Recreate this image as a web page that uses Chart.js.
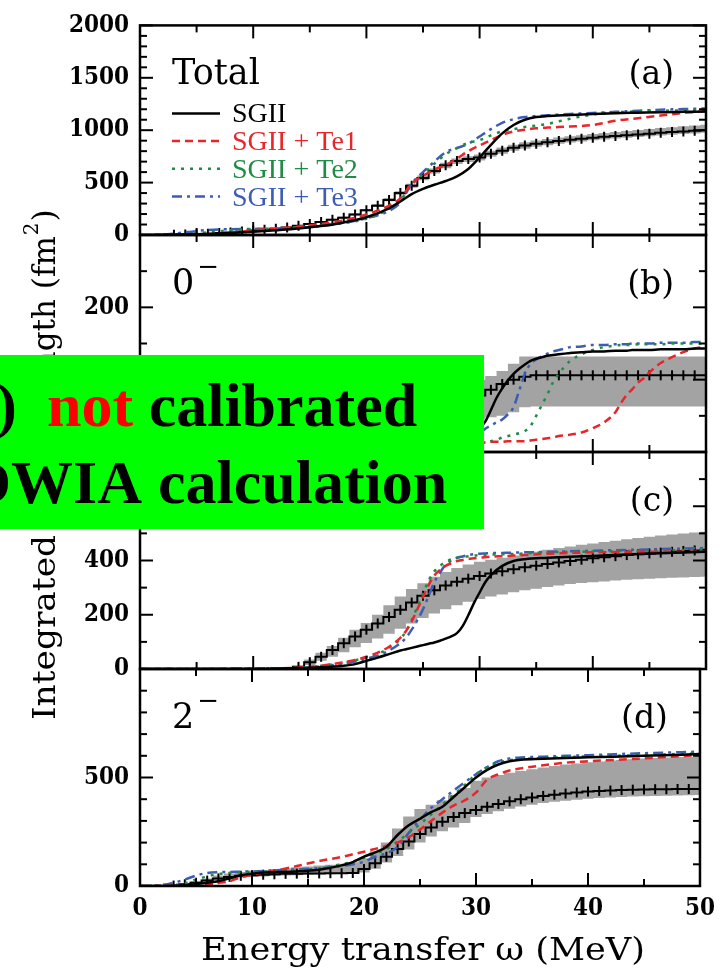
<!DOCTYPE html>
<html>
<head>
<meta charset="utf-8">
<title>Integrated strength</title>
<script src="https://cdn.jsdelivr.net/npm/chart.js@4.4.1/dist/chart.umd.min.js"></script>
<style>
  body { margin: 0; background: #fff; }
  #wrap { position: relative; width: 723px; height: 971px; overflow: hidden; }
  #wrap canvas { position: absolute; left: 0; top: 0; }
  #note { position: absolute; left: 0; top: 355px; width: 484px; height: 174px; background: #00ff00; overflow: hidden;
          font: bold 62px "Liberation Serif", "Times New Roman", serif; line-height: 62px; white-space: nowrap; color: #000; }
  #note > span { position: absolute; }
  #note .red { color: #ff0000; }
</style>
</head>
<body>
<div id="wrap">
  <canvas id="pa" width="723" height="971"></canvas>
  <canvas id="pb" width="723" height="971"></canvas>
  <canvas id="pc" width="723" height="971"></canvas>
  <canvas id="pd" width="723" height="971"></canvas>
  <div id="note">
    <span style="right:467px;top:19px">(b)</span>
    <span style="left:47px;top:19px"><span class="red">not</span> calibrated</span>
    <span style="right:342px;top:96px">DWIA</span>
    <span style="left:158px;top:96px">calculation</span>
  </div>
</div>
<script>
const SLAB = '"DejaVu Serif", "Liberation Serif", serif';
const SLAB_NARROW = '"DejaVu Serif Condensed", "DejaVu Serif", serif';
const BLACK = "#000000";
const RED = "#e8262a";
const GREEN = "#1f8c45";
const BLUE = "#3d5db5";
const BAND = "#a3a3a3";

const SERIES = ["SGII", "SGII + Te1", "SGII + Te2", "SGII + Te3"];

// 1 MeV bins of the measured strength
const E_BINS = [0,1,2,3,4,5,6,7,8,9,10,11,12,13,14,15,16,17,18,19,20,21,22,23,24,25,26,27,28,29,30,
  31,32,33,34,35,36,37,38,39,40,41,42,43,44,45,46,47,48,49,50];

// --- (a) Total ---
const A_GRID = [0,2,4,6,8,10,12,14,16,18,20,22,23,24,25,26,27,28,29,30,31,32,33,34,35,36,38,40,42,44,46,48,50];
const A_SGII = [0,2,5,10,18,30,45,62,85,120,170,255,320,390,440,480,515,560,630,740,860,970,1050,1100,1125,1135,1145,1155,1162,1167,1172,1175,1178];
const A_TE1 = [0,1,3,8,20,45,62,80,105,140,195,280,350,490,565,625,668,730,800,855,905,955,988,1005,1018,1025,1035,1050,1090,1115,1140,1165,1180];
const A_TE2 = [0,2,8,25,45,55,62,72,90,115,155,250,330,480,580,680,770,830,880,905,950,990,1010,1030,1045,1060,1110,1150,1170,1180,1185,1190,1195];
const A_TE3 = [0,5,25,48,55,58,62,70,85,115,160,230,310,490,600,700,790,830,870,940,1010,1070,1105,1125,1135,1142,1155,1165,1175,1185,1195,1202,1208];
const A_EXP = [0,0,0,2,5,8,12,18,25,33,42,50,60,72,88,105,125,145,165,195,235,280,335,400,470,545,610,665,705,725,
  740,775,805,832,853,870,885,897,908,918,928,937,945,953,960,967,975,982,988,994,1000];
const A_LO = [0,0,0,1,4,7,11,17,23,31,40,48,57,69,84,100,120,139,158,187,226,269,322,384,451,523,586,638,677,696,
  712,746,776,803,824,841,857,870,882,893,903,912,920,928,935,942,950,957,963,969,975];
const A_HI = [0,0,0,3,7,10,14,21,28,37,46,55,66,79,95,113,134,155,176,207,248,295,352,418,490,568,634,690,730,752,
  768,803,834,862,884,901,917,930,942,953,964,974,984,993,1002,1011,1020,1029,1037,1045,1052];

// --- (b) 0- ---
const B_GRID = [0,10,15,20,24,26,28,29,30,30.5,31,31.5,32,32.5,33,33.5,34,34.5,35,35.5,36,36.5,37,37.5,38,39,40,41,42,42.5,43,43.5,44,44.5,45,46,47,48,49,50];
const B_SGII = [0,0,0,2,5,10,18,25,33,42,58,75,88,99,108,115,121,126,129,131,133,134,135,136,137,138,139,139,140,140,140,141,141,141,141,142,142,142,143,143];
const B_TE1 = [0,0,0,1,3,5,9,11,13,13,14,14,14,15,15,15,15,16,17,18,19,20,22,23,24,27,33,41,55,68,79,87,96,102,110,123,131,138,143,146];
const B_TE2 = [0,0,0,1,2,3,5,8,11,13,15,17,20,22,24,26,29,36,50,65,80,97,108,118,126,135,141,145,147,148,148,148,149,149,149,149,150,150,150,150];
const B_TE3 = [0,0,0,1,2,4,8,14,25,32,37,41,45,52,62,85,108,122,128,132,136,139,141,143,145,146,148,148,149,149,149,150,150,150,150,151,151,151,152,152];
const B_EXP = [0,0,0,0,0,0,0,0,0,0,0,1,2,3,5,7,9,12,15,18,22,26,30,35,40,46,52,58,65,72,
  78,86,94,100,104,106,106,106,106,106,106,106,106,106,106,106,106,106,106,106,106];
const B_LO = [0,0,0,0,0,0,0,0,0,0,0,0,1,2,3,4,5,7,9,11,13,15,18,21,24,27,30,33,36,38,
  45,48,50,55,62,63,63,63,63,63,63,63,63,63,63,63,63,63,63,63,63];
const B_HI = [0,0,0,0,0,0,0,0,0,0,0,2,3,5,7,10,13,17,21,25,30,35,41,48,55,62,70,78,86,94,
  100,105,112,122,132,132,132,132,132,132,132,132,132,132,132,132,132,132,132,132,132];

// --- (c) 1- ---
const C_GRID = [0,10,14,16,18,19,20,21,22,23,23.5,24,24.5,25,25.5,26,26.5,27,27.5,28,28.5,29,29.5,30,30.5,31,32,33,34,36,38,40,44,50];
const C_SGII = [0,0,3,6,12,18,30,42,55,68,73,78,83,88,93,98,104,112,120,132,158,198,243,282,320,346,380,398,405,410,414,417,424,432];
const C_TE1 = [0,1,5,12,25,33,45,60,82,115,140,175,220,265,310,345,365,380,390,398,402,406,408,410,412,414,416,418,420,425,428,430,432,432];
const C_TE2 = [0,1,5,12,24,32,42,55,78,110,140,180,230,280,325,360,380,395,404,410,413,416,418,420,421,422,423,424,426,430,432,433,436,440];
const C_TE3 = [0,1,4,10,20,28,38,50,68,95,115,145,180,220,270,320,355,385,400,410,415,420,423,425,426,427,428,429,430,432,434,436,440,446];
const C_EXP = [0,0,0,0,0,0,0,0,0,0,0,0,0,0,8,25,45,70,95,120,145,168,192,218,245,270,290,308,322,333,
  343,352,360,368,375,381,387,393,398,403,408,412,416,420,423,426,429,432,435,437,440];
const C_LO = [0,0,0,0,0,0,0,0,0,0,0,0,0,0,4,15,30,45,62,80,96,112,130,148,168,188,205,220,235,248,
  258,267,275,283,290,296,302,308,313,317,320,323,326,329,331,333,335,336,337,339,340];
const C_HI = [0,0,0,0,0,0,0,0,0,0,0,0,0,0,12,35,60,85,115,145,170,200,235,267,295,316,340,358,372,385,
  395,403,410,418,425,432,440,446,452,458,463,468,473,478,483,488,492,496,500,503,506];

// --- (d) 2- ---
const D_GRID = [0,2,3,4,5,6,7,8,9,10,11,12,14,16,18,19,20,21,22,23,24,25,26,27,28,29,30,31,32,33,34,36,38,40,45,50];
const D_SGII = [0,0,1,3,8,15,22,35,50,57,62,64,67,75,95,110,135,155,180,235,280,310,340,365,410,455,500,535,560,575,582,586,590,593,600,608];
const D_TE1 = [0,0,1,2,4,8,14,22,40,52,62,70,92,115,134,146,158,171,184,200,225,260,300,338,370,395,430,490,515,532,542,556,568,575,588,604];
const D_TE2 = [0,2,5,12,30,45,55,60,63,65,66,68,73,82,100,113,130,148,170,205,245,285,330,375,420,465,515,548,568,580,585,590,594,597,604,611];
const D_TE3 = [0,5,15,30,48,60,64,65,66,67,69,72,77,82,92,100,112,135,150,180,245,305,360,400,440,478,515,548,575,588,592,596,600,603,612,619];
const D_EXP = [0,0,0,2,8,15,25,35,42,47,50,52,54,56,57,58,58,59,59,60,78,105,135,170,205,240,270,296,318,336,
  350,365,378,390,400,408,415,421,426,431,435,438,440,442,444,445,446,446,447,447,447];
const D_LO = [0,0,0,0,4,8,15,25,32,38,42,44,46,48,50,52,53,54,55,56,62,80,108,138,168,200,228,252,270,290,
  318,332,345,356,366,375,382,388,393,398,402,405,408,410,412,414,415,416,417,418,419];
const D_HI = [0,0,0,4,12,22,35,48,58,65,70,74,78,82,86,90,94,98,102,110,128,160,200,265,320,355,375,395,420,452,
  485,500,512,522,530,538,546,553,560,565,570,574,578,581,584,587,590,592,594,595,596];

function pts(xs, ys) {
  return xs.map((x, i) => ({ x, y: ys[i] }));
}

function line(ctx, x1, y1, x2, y2) {
  ctx.beginPath();
  ctx.moveTo(x1, y1);
  ctx.lineTo(x2, y2);
  ctx.stroke();
}

// slab text; "fit" squeezes or stretches it to a given width
function slabText(ctx, str, x, y, size, align, fit) {
  ctx.save();
  ctx.font = size + "px " + SLAB;
  ctx.textBaseline = "alphabetic";
  ctx.textAlign = align || "left";
  const w = ctx.measureText(str).width;
  const sx = fit ? fit / w : 1;
  ctx.translate(x, y);
  ctx.scale(sx, 1);
  ctx.fillText(str, 0, 0);
  ctx.restore();
  return w * sx;
}

const framePlugin = {
  id: "frame",
  afterDatasetsDraw(chart, args, o) {
    const { ctx, chartArea: a } = chart;
    const x = chart.scales.x;
    const y = chart.scales.y;
    ctx.save();
    ctx.strokeStyle = "#000";
    ctx.fillStyle = "#000";
    ctx.lineWidth = 2;

    // inward ticks on all four sides
    for (let v = x.min; v <= x.max; v += 5) {
      const px = x.getPixelForValue(v);
      const len = v % 10 === 0 ? 13 : 7;
      line(ctx, px, a.top, px, a.top + len);
      line(ctx, px, a.bottom, px, a.bottom - len);
    }
    const major = y.options.ticks.stepSize;
    for (let v = y.min; v <= y.max; v += o.minor) {
      const py = y.getPixelForValue(v);
      const len = v % major === 0 ? 13 : 7;
      line(ctx, a.left, py, a.left + len, py);
      line(ctx, a.right, py, a.right - len, py);
    }
    ctx.lineWidth = 2.5;
    ctx.strokeRect(a.left, a.top, a.right - a.left, a.bottom - a.top);

    // panel labels
    const base = a.top + 59;
    const w = slabText(ctx, o.label, a.left + 32, base, 35);
    if (o.sup) slabText(ctx, o.sup, a.left + 35 + w, a.top + 40, 26);
    slabText(ctx, o.tag, a.right - 32, base, 33, "right");

    if (o.legend) {
      chart.data.datasets.slice(0, 4).forEach((ds, i) => {
        const ly = a.top + 88 + i * 27.7;
        ctx.save();
        ctx.strokeStyle = ds.borderColor;
        ctx.lineWidth = 2.5;
        ctx.setLineDash(ds.borderDash || []);
        line(ctx, a.left + 32, ly, a.left + 80, ly);
        ctx.restore();
        ctx.fillStyle = ds.borderColor;
        ctx.font = '28px "Liberation Serif", serif';
        ctx.textAlign = "left";
        ctx.fillText(ds.label, a.left + 92, ly + 9);
      });
    }

    if (o.xTitle) {
      slabText(ctx, o.xTitle, 201, a.bottom + 74, 32, "left", 444);
    }

    if (o.yTitle) {
      // reads upwards; frame x runs from screen y = 720 towards the top
      ctx.translate(55, 720);
      ctx.rotate(-Math.PI / 2);
      slabText(ctx, o.yTitle[0], 0, 0, 31, "left", 185);
      ctx.font = "31px " + SLAB;
      const ws = ctx.measureText(o.yTitle[1]).width;
      let fx = 421 - ws;
      fx += slabText(ctx, o.yTitle[1], fx, 0, 31);
      fx += slabText(ctx, o.yTitle[2], fx, 0, 31);
      fx += slabText(ctx, "2", fx + 1, -17, 20) + 2;
      slabText(ctx, ")", fx, 0, 31);
    }
    ctx.restore();
  },
};

function datasets(grid, sgii, te1, te2, te3, exp, lo, hi) {
  const theory = { pointRadius: 0, borderWidth: 2.5, cubicInterpolationMode: "monotone", fill: false };
  return [
    { ...theory, label: SERIES[0], data: pts(grid, sgii), borderColor: BLACK, order: 1 },
    { ...theory, label: SERIES[1], data: pts(grid, te1), borderColor: RED, borderDash: [8, 5], order: 2 },
    { ...theory, label: SERIES[2], data: pts(grid, te2), borderColor: GREEN, borderDash: [3, 6], order: 3 },
    { ...theory, label: SERIES[3], data: pts(grid, te3), borderColor: BLUE, borderDash: [10, 5, 3, 5], order: 4 },
    {
      label: "exp",
      data: pts(E_BINS, exp),
      stepped: "middle",
      borderColor: BLACK,
      borderWidth: 2,
      pointStyle: "line",
      rotation: 90,
      pointRadius: (c) => (c.raw && c.raw.y > 1 ? 5 : 0),
      pointBorderColor: BLACK,
      pointBackgroundColor: BLACK,
      pointBorderWidth: 2,
      fill: false,
      order: 5,
    },
    { label: "lo", data: pts(E_BINS, lo), stepped: "middle", borderWidth: 0, borderColor: "rgba(0,0,0,0)", pointRadius: 0, fill: false, order: 6 },
    { label: "hi", data: pts(E_BINS, hi), stepped: "middle", borderWidth: 0, borderColor: "rgba(0,0,0,0)", pointRadius: 0,
      fill: "-1", backgroundColor: BAND, order: 7 },
  ];
}

const PANELS = [
  { id: "pa", top: 17, bottom: 235, ymax: 2000, major: 500, minor: 100, showTop: true, label: "Total", sup: "", tag: "(a)", legend: true,
    sets: datasets(A_GRID, A_SGII, A_TE1, A_TE2, A_TE3, A_EXP, A_LO, A_HI) },
  { id: "pb", top: 235, bottom: 452, ymax: 300, major: 100, minor: 50, label: "0", sup: "\u2212", tag: "(b)",
    sets: datasets(B_GRID, B_SGII, B_TE1, B_TE2, B_TE3, B_EXP, B_LO, B_HI) },
  { id: "pc", top: 452, bottom: 669, ymax: 800, major: 200, minor: 100, label: "", sup: "", tag: "(c)",
    sets: datasets(C_GRID, C_SGII, C_TE1, C_TE2, C_TE3, C_EXP, C_LO, C_HI) },
  { id: "pd", top: 669, bottom: 886, ymax: 1000, major: 500, minor: 100, label: "2", sup: "\u2212", tag: "(d)", last: true,
    xTitle: "Energy transfer \u03c9 (MeV)", yTitle: ["Integrated", "strength", " (fm"],
    sets: datasets(D_GRID, D_SGII, D_TE1, D_TE2, D_TE3, D_EXP, D_LO, D_HI) },
];

const tickFont = { family: SLAB_NARROW, weight: "bold", size: 24 };

PANELS.forEach((p) => {
  new Chart(document.getElementById(p.id), {
    type: "line",
    data: { datasets: p.sets },
    plugins: [framePlugin],
    options: {
      responsive: false,
      animation: false,
      events: [],
      layout: { padding: { top: p.top, bottom: p.last ? 0 : 971 - p.bottom, left: 0, right: 17 } },
      plugins: {
        legend: { display: false },
        tooltip: { enabled: false },
        frame: { minor: p.minor, label: p.label, sup: p.sup, tag: p.tag, legend: !!p.legend, xTitle: p.xTitle, yTitle: p.yTitle },
      },
      scales: {
        x: {
          type: "linear",
          min: 0,
          max: 50,
          display: !!p.last,
          grid: { display: false, drawTicks: false },
          border: { display: false },
          ticks: { stepSize: 10, font: tickFont, color: "#000", padding: 8, maxRotation: 0 },
          afterFit: (s) => { if (p.last) s.height = 85; },
        },
        y: {
          min: 0,
          max: p.ymax,
          grid: { display: false, drawTicks: false },
          border: { display: false },
          ticks: {
            stepSize: p.major,
            autoSkip: false,
            font: tickFont,
            color: "#000",
            padding: 11,
            callback: (v) => (v === p.ymax && !p.showTop ? "" : v),
          },
          afterFit: (s) => { s.width = 140; },
        },
      },
    },
  });
});
</script>
</body>
</html>
